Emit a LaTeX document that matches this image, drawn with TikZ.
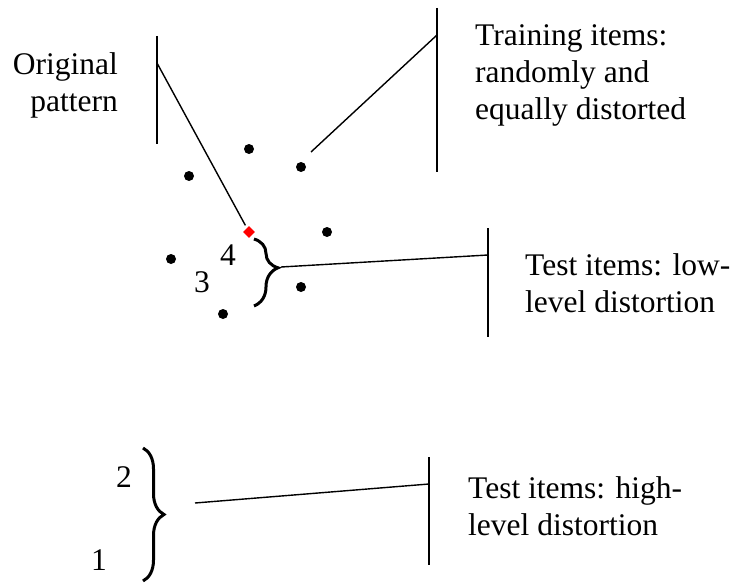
\documentclass[tikz,border=0pt]{standalone}
\usepackage{fontspec}
\setmainfont{Liberation Serif}
\usetikzlibrary{shapes.geometric,decorations.pathreplacing}
\newcommand{\labeltext}{\fontsize{31.5}{37}\selectfont}
\tikzset{
  bar/.style={draw=black,line width=1.6pt},
  leader/.style={draw=black,line width=1.4pt},
  dotitem/.style={circle,fill=black,inner sep=0pt,minimum size=10pt},
  protoitem/.style={diamond,fill=red,inner sep=0pt,minimum size=12pt},
  curly/.style={draw=black,line width=3pt,decorate,decoration={brace,amplitude=#1}},
  caption/.style={font=\labeltext,inner sep=0pt,align=left,anchor=base west},
  number/.style={font=\labeltext,inner sep=0pt}
}

\begin{document}
\begin{tikzpicture}[x=1pt,y=-1pt]
  \useasboundingbox (0,0) rectangle (733,583);

  % Label bars and the points where the leaders meet them.
  \coordinate (origtop) at (157,36);
  \coordinate (origbottom) at (157,144);
  \coordinate (origjoin) at (157,63);
  \coordinate (traintop) at (437,8);
  \coordinate (trainbottom) at (437,172);
  \coordinate (trainjoin) at (437,35);
  \coordinate (lowtop) at (488,228);
  \coordinate (lowbottom) at (488,337);
  \coordinate (lowjoin) at (488,255);
  \coordinate (hightop) at (429,457);
  \coordinate (highbottom) at (429,565);
  \coordinate (highjoin) at (429,484);
  \draw[bar] (origtop) -- (origbottom);
  \draw[bar] (traintop) -- (trainbottom);
  \draw[bar] (lowtop) -- (lowbottom);
  \draw[bar] (hightop) -- (highbottom);

  % Texts (placed by the baseline of their last line).
  \node[caption,anchor=base east,align=right] (origlabel) at (118,112) {Original\\pattern};
  \node[caption] (trainlabel) at (475,120) {Training items:\\randomly and\\equally distorted};
  \node[caption] (lowlabel) at (525,312) {Test items: low-\\level distortion};
  \node[caption] (highlabel) at (468,535) {Test items: high-\\level distortion};

  % Prototype and distorted items.
  \node[protoitem] (prototype) at (249,232) {};
  \node[dotitem] (trainA) at (249,149) {};
  \node[dotitem] (trainB) at (301,167) {};
  \node[dotitem] (trainC) at (189,176) {};
  \node[dotitem] (trainD) at (327,232) {};
  \node[dotitem] (trainE) at (171,259) {};
  \node[dotitem] (trainF) at (301,287) {};
  \node[dotitem] (trainG) at (223,314) {};
  \coordinate (trainend) at (311,152);

  % Test item numbers.
  \node[number] (itemfour) at (228,255) {4};
  \node[number] (itemthree) at (202,282) {3};
  \node[number] (itemtwo) at (124,477) {2};
  \node[number] (itemone) at (99,560) {1};

  % Braces grouping the test items.
  \draw[curly=24pt,decoration={aspect=.43}] (254,239) -- (254,306);
  \coordinate (lowtip) at (281,267);
  \draw[curly=21pt] (143,448) -- (143,581);
  \coordinate (highstart) at (195,503);

  % Leaders from items to their labels.
  \draw[leader,shorten >=3pt] (origjoin) -- (prototype);
  \draw[leader] (trainend) -- (trainjoin);
  \draw[leader] (lowtip) -- (lowjoin);
  \draw[leader] (highstart) -- (highjoin);
\end{tikzpicture}
\end{document}
